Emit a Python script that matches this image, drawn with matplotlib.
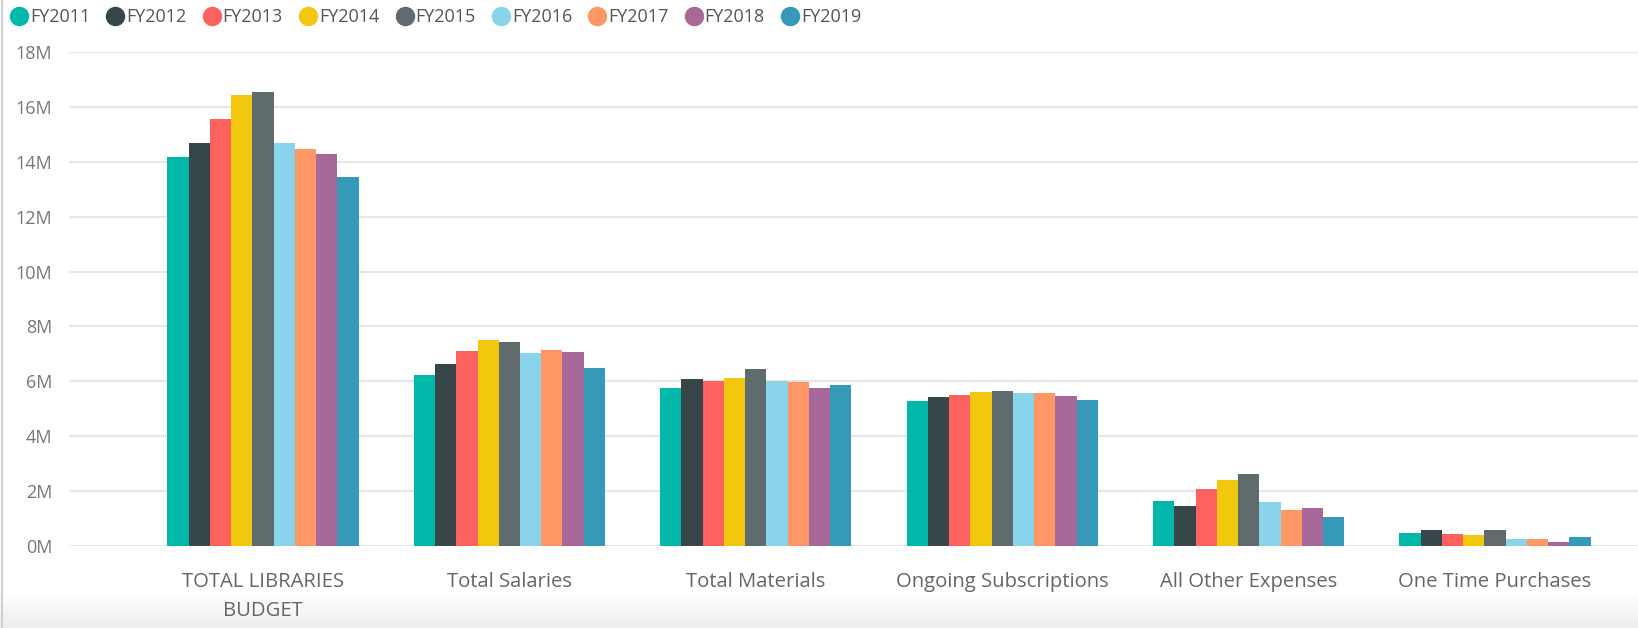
import numpy as np
import matplotlib
matplotlib.use("Agg")
from matplotlib import pyplot as plt
from matplotlib.lines import Line2D
from matplotlib.ticker import FuncFormatter

categories = ["TOTAL LIBRARIES\nBUDGET", "Total Salaries", "Total Materials",
              "Ongoing Subscriptions", "All Other Expenses", "One Time Purchases"]
years = ["FY2011", "FY2012", "FY2013", "FY2014", "FY2015",
         "FY2016", "FY2017", "FY2018", "FY2019"]

# values in millions, one list per fiscal year (order follows categories)
fy2011 = [14.17, 6.25, 5.76, 5.27, 1.63, 0.46]
fy2012 = [14.68, 6.63, 6.07, 5.42, 1.47, 0.59]
fy2013 = [15.58, 7.12, 6.01, 5.49, 2.07, 0.45]
fy2014 = [16.45, 7.50, 6.11, 5.62, 2.40, 0.41]
fy2015 = [16.56, 7.42, 6.45, 5.66, 2.64, 0.60]
fy2016 = [14.67, 7.04, 6.00, 5.58, 1.59, 0.27]
fy2017 = [14.47, 7.14, 5.99, 5.56, 1.32, 0.26]
fy2018 = [14.28, 7.08, 5.77, 5.48, 1.40, 0.14]
fy2019 = [13.44, 6.47, 5.85, 5.32, 1.06, 0.34]
series = [fy2011, fy2012, fy2013, fy2014, fy2015, fy2016, fy2017, fy2018, fy2019]

colors = ["#01B8AA", "#374649", "#FD625E", "#F2C80F", "#5F6B6D",
          "#8AD4EB", "#FE9666", "#A66999", "#3599B8"]

plt.rcParams['font.family'] = ['Open Sans', 'DejaVu Sans']

fig = plt.figure(figsize=(16.38, 6.28), dpi=100)

# faint grey band at the bottom of the visual
bg = fig.add_axes([0, 0, 1, 1], zorder=-1)
grad = np.ones((628, 1))
grad[590:, 0] = np.linspace(1.0, 0.93, 38)
bg.imshow(grad, cmap="gray", vmin=0, vmax=1, aspect="auto", extent=[0, 1, 0, 1])
bg.axvline(0.0015, color="#d0d0d0", lw=1.5)
bg.axis("off")

ax = fig.add_axes([0.042, 0.1306, 0.958, 0.7864])
x = np.arange(len(categories))
bw = 0.0862
for i, (vals, c, yr) in enumerate(zip(series, colors, years)):
    ax.bar(x + (i - 4) * bw, np.array(vals) * 1e6, width=bw, color=c, label=yr,
           zorder=3)

ax.set_xlim(-0.788, 5.58)
ax.set_ylim(0, 18e6)
ax.set_yticks(np.arange(0, 18.1e6, 2e6))
ax.yaxis.set_major_formatter(FuncFormatter(lambda v, p: f"{v / 1e6:.0f}M"))
ax.grid(axis="y", color="#e6e6e6", lw=1.5, zorder=0)
ax.set_xticks(x)
ax.set_xticklabels(categories, linespacing=1.6)
ax.tick_params(axis="y", length=0, pad=12, labelsize=13, labelcolor="#777777")
ax.tick_params(axis="x", length=0, pad=19, labelsize=14.6, labelcolor="#666666")
for s in ax.spines.values():
    s.set_visible(False)
ax.set_facecolor("none")

handles = [Line2D([], [], marker="o", ls="none", color=c, markersize=13) for c in colors]
fig.legend(handles, years, loc="upper left", bbox_to_anchor=(0.0, 1.0), ncol=9,
           frameon=False, fontsize=13, labelcolor="#555555", handletextpad=0.0,
           columnspacing=0.8, handlelength=1.2, borderaxespad=0.06)

fig.savefig("out.png", dpi=100)
